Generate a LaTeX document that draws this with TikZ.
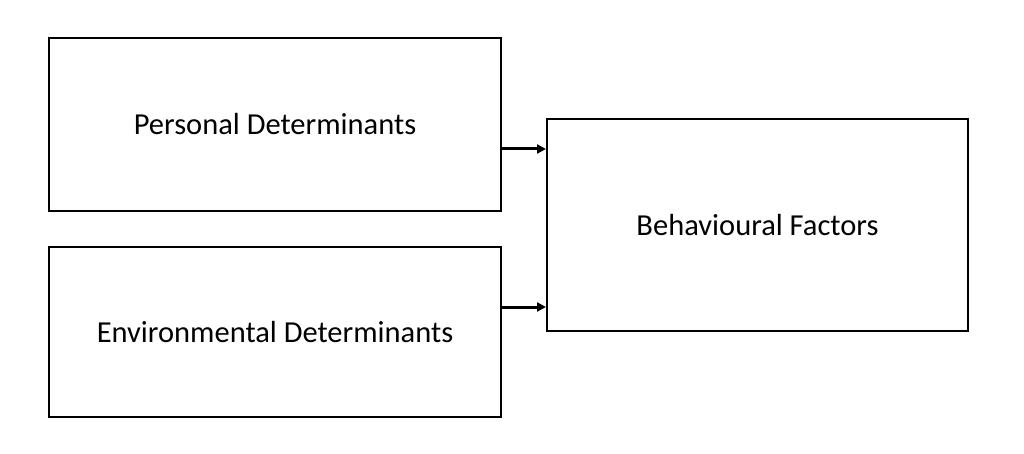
\documentclass[tikz,border=0pt]{standalone}
\usepackage{fontspec}
\setmainfont{Carlito}
\usetikzlibrary{positioning,arrows.meta}

\begin{document}
\begin{tikzpicture}[x=1pt,y=-1pt,
  factor/.style={draw,line width=2pt,rectangle,inner sep=0pt,
    font=\fontsize{30.5}{36}\selectfont},
  link/.style={-{Triangle[length=9pt,width=9pt]},line width=3pt}]
\useasboundingbox (0,0) rectangle (1024,454);
\node[factor,minimum width=452pt,minimum height=173pt] (pers) at (275,124.5) {Personal Determinants};
\node[factor,minimum width=452pt,minimum height=170pt] (env) at (275,332) {Environmental Determinants};
\node[factor,minimum width=421pt,minimum height=212pt] (behav) at (757.5,225) {Behavioural Factors};
\coordinate (a1) at ([yshift=-24.5pt]pers.east);
\coordinate (a2) at ([yshift=25pt]env.east);
\draw[link] (a1) -- (behav.west |- a1);
\draw[link] (a2) -- (behav.west |- a2);
\end{tikzpicture}
\end{document}
